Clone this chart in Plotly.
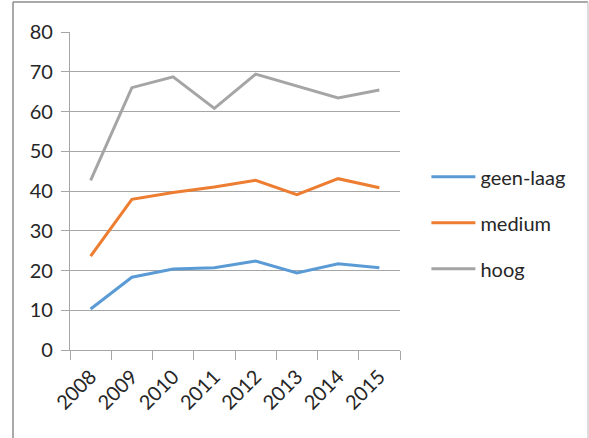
import plotly.graph_objects as pgo

years = ['2008', '2009', '2010', '2011', '2012', '2013', '2014', '2015']
geen_laag = [10.3, 18.3, 20.4, 20.7, 22.4, 19.4, 21.7, 20.7]
medium = [23.6, 37.9, 39.6, 41.0, 42.7, 39.1, 43.1, 40.8]
hoog = [42.7, 66.0, 68.7, 60.8, 69.4, 66.4, 63.4, 65.4]

series = [
    ('geen-laag', geen_laag, '#5B9BD5'),
    ('medium', medium, '#ED7D31'),
    ('hoog', hoog, '#A5A5A5'),
]

FONT = 'Lato'
GRID = '#A6A6A6'

fig = pgo.Figure()
for name, values, color in series:
    fig.add_trace(pgo.Scatter(
        name=name,
        x=years,
        y=values,
        mode='lines',
        legendgroup=name,
        line={'color': color, 'width': 3},
    ))

fig.update_layout(
    width=589,
    height=438,
    margin={'l': 70, 'r': 189, 't': 32, 'b': 88},
    paper_bgcolor='white',
    plot_bgcolor='white',
    font={'family': FONT, 'size': 20, 'color': '#262626'},
    showlegend=True,
    legend={
        'x': 1.08, 'xanchor': 'left',
        'y': 0.40, 'yanchor': 'middle',
        'traceorder': 'grouped',
        'tracegroupgap': 17,
        'itemwidth': 44,
        'font': {'family': FONT, 'size': 20, 'color': '#262626'},
        'bgcolor': 'rgba(0,0,0,0)',
    },
)

fig.update_xaxes(
    type='category',
    range=[-0.5, 7.5],
    showgrid=False,
    showline=True,
    linecolor=GRID,
    linewidth=1.3,
    ticks='outside',
    tickson='boundaries',
    ticklen=9,
    tickcolor=GRID,
    tickwidth=1.3,
    tickangle=-45,
    ticklabelstandoff=6,
    tickfont={'family': FONT, 'size': 20},
)

fig.update_yaxes(
    range=[0, 80],
    dtick=10,
    showgrid=True,
    gridcolor=GRID,
    gridwidth=1.3,
    zeroline=False,
    showline=True,
    linecolor=GRID,
    linewidth=1.3,
    ticks='outside',
    ticklen=8,
    tickcolor=GRID,
    tickwidth=1.3,
    ticklabelstandoff=4,
    tickfont={'family': FONT, 'size': 20},
)

# outer chart frame, partly cut off by the screenshot
frame = [
    ((13 - 70) / 330, (350 - 2) / 318, (588 - 70) / 330, (350 - 2) / 318, '#8C8C8C'),
    ((13 - 70) / 330, (350 - 2) / 318, (13 - 70) / 330, (350 - 445) / 318, '#8C8C8C'),
    ((588 - 70) / 330, (350 - 2) / 318, (588 - 70) / 330, (350 - 445) / 318, '#D0D0D0'),
]
for x0, y0, x1, y1, c in frame:
    fig.add_shape(type='line', xref='paper', yref='paper',
                  x0=x0, y0=y0, x1=x1, y1=y1,
                  line={'color': c, 'width': 1.5})

fig.write_html("out.html", config={'displayModeBar': False},
               post_script="document.body.style.margin='0';")
